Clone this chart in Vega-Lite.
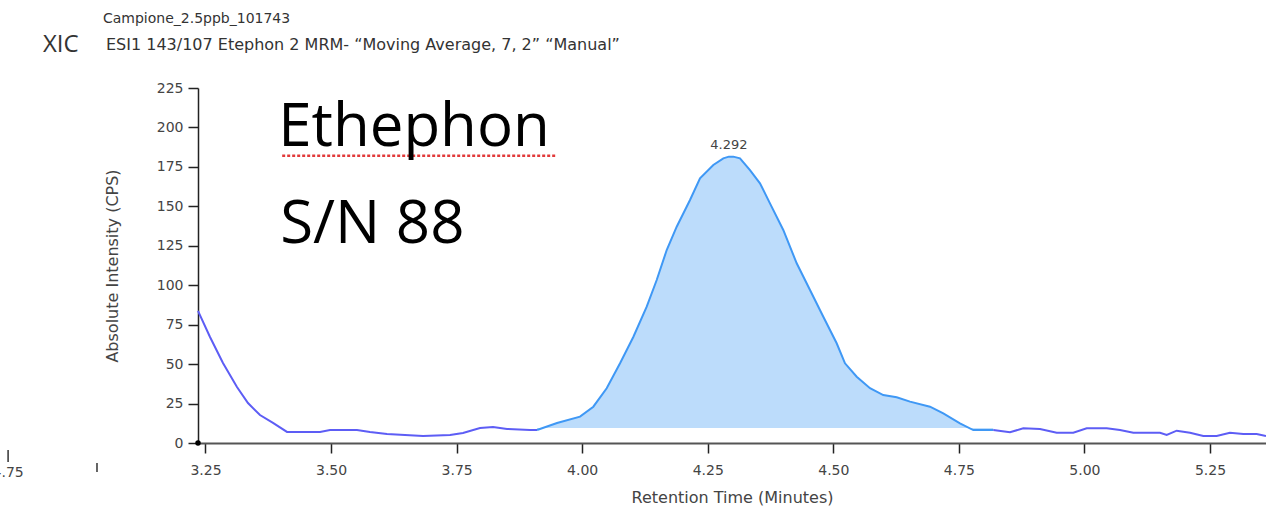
{
  "$schema": "https://vega.github.io/schema/vega-lite/v6.json",
  "width": 1068,
  "height": 355,
  "autosize": {"type": "none"},
  "padding": {"left": 198, "top": 88, "right": 0, "bottom": 67},
  "background": "white",
  "config": {"view": {"stroke": null}, "font": "DejaVu Sans"},
  "datasets": {
    "trace": [
      {"seg": "left", "t": 3.2351, "v": 83.7},
      {"seg": "left", "t": 3.2590, "v": 67.2},
      {"seg": "left", "t": 3.2848, "v": 50.7},
      {"seg": "left", "t": 3.3127, "v": 35.5},
      {"seg": "left", "t": 3.3346, "v": 25.3},
      {"seg": "left", "t": 3.3585, "v": 17.7},
      {"seg": "left", "t": 3.3844, "v": 12.7},
      {"seg": "left", "t": 3.4123, "v": 7.0},
      {"seg": "left", "t": 3.4780, "v": 7.0},
      {"seg": "left", "t": 3.4980, "v": 8.2},
      {"seg": "left", "t": 3.5516, "v": 8.2},
      {"seg": "left", "t": 3.5775, "v": 7.0},
      {"seg": "left", "t": 3.6114, "v": 5.7},
      {"seg": "left", "t": 3.6831, "v": 4.4},
      {"seg": "left", "t": 3.7369, "v": 5.1},
      {"seg": "left", "t": 3.7627, "v": 6.3},
      {"seg": "left", "t": 3.7966, "v": 9.5},
      {"seg": "left", "t": 3.8225, "v": 10.1},
      {"seg": "left", "t": 3.8504, "v": 8.9},
      {"seg": "left", "t": 3.8962, "v": 8.2},
      {"seg": "left", "t": 3.9101, "v": 8.2},
      {"seg": "peak", "t": 3.9101, "v": 8.2},
      {"seg": "peak", "t": 3.9499, "v": 12.7},
      {"seg": "peak", "t": 3.9957, "v": 16.7},
      {"seg": "peak", "t": 4.0222, "v": 23.0},
      {"seg": "peak", "t": 4.0488, "v": 34.7},
      {"seg": "peak", "t": 4.0754, "v": 50.5},
      {"seg": "peak", "t": 4.1018, "v": 67.2},
      {"seg": "peak", "t": 4.1285, "v": 86.4},
      {"seg": "peak", "t": 4.1484, "v": 103.3},
      {"seg": "peak", "t": 4.1683, "v": 122.3},
      {"seg": "peak", "t": 4.1882, "v": 137.1},
      {"seg": "peak", "t": 4.2147, "v": 154.0},
      {"seg": "peak", "t": 4.2346, "v": 167.8},
      {"seg": "peak", "t": 4.2611, "v": 176.2},
      {"seg": "peak", "t": 4.2810, "v": 180.4},
      {"seg": "peak", "t": 4.2920, "v": 181.5},
      {"seg": "peak", "t": 4.3009, "v": 181.5},
      {"seg": "peak", "t": 4.3142, "v": 180.4},
      {"seg": "peak", "t": 4.3341, "v": 173.0},
      {"seg": "peak", "t": 4.3540, "v": 164.6},
      {"seg": "peak", "t": 4.3739, "v": 151.9},
      {"seg": "peak", "t": 4.4004, "v": 135.0},
      {"seg": "peak", "t": 4.4271, "v": 113.9},
      {"seg": "peak", "t": 4.4536, "v": 97.0},
      {"seg": "peak", "t": 4.4801, "v": 80.0},
      {"seg": "peak", "t": 4.5067, "v": 63.2},
      {"seg": "peak", "t": 4.5233, "v": 50.5},
      {"seg": "peak", "t": 4.5466, "v": 42.0},
      {"seg": "peak", "t": 4.5731, "v": 34.7},
      {"seg": "peak", "t": 4.5995, "v": 30.4},
      {"seg": "peak", "t": 4.6262, "v": 29.0},
      {"seg": "peak", "t": 4.6527, "v": 26.2},
      {"seg": "peak", "t": 4.6925, "v": 23.0},
      {"seg": "peak", "t": 4.7190, "v": 18.8},
      {"seg": "peak", "t": 4.7522, "v": 12.5},
      {"seg": "peak", "t": 4.7787, "v": 8.2},
      {"seg": "peak", "t": 4.8185, "v": 8.2},
      {"seg": "right", "t": 4.8185, "v": 8.2},
      {"seg": "right", "t": 4.8518, "v": 6.8},
      {"seg": "right", "t": 4.8783, "v": 9.3},
      {"seg": "right", "t": 4.9115, "v": 8.9},
      {"seg": "right", "t": 4.9448, "v": 6.5},
      {"seg": "right", "t": 4.9778, "v": 6.5},
      {"seg": "right", "t": 5.0045, "v": 9.3},
      {"seg": "right", "t": 5.0443, "v": 9.3},
      {"seg": "right", "t": 5.0708, "v": 8.2},
      {"seg": "right", "t": 5.0974, "v": 6.5},
      {"seg": "right", "t": 5.1505, "v": 6.5},
      {"seg": "right", "t": 5.1638, "v": 5.1},
      {"seg": "right", "t": 5.1837, "v": 7.8},
      {"seg": "right", "t": 5.2102, "v": 6.5},
      {"seg": "right", "t": 5.2367, "v": 4.4},
      {"seg": "right", "t": 5.2633, "v": 4.4},
      {"seg": "right", "t": 5.2897, "v": 6.5},
      {"seg": "right", "t": 5.3163, "v": 5.7},
      {"seg": "right", "t": 5.3430, "v": 5.7},
      {"seg": "right", "t": 5.3615, "v": 4.4}
    ],
    "notes": [
      {"kind": "campione", "label": "Campione_2.5ppb_101743", "t": 3.0459, "v": 268.7},
      {"kind": "esi", "label": "ESI1 143/107 Etephon 2 MRM- \u201cMoving Average, 7, 2\u201d \u201cManual\u201d", "t": 3.0519, "v": 252.2},
      {"kind": "xic", "label": "XIC", "t": 2.9265, "v": 252.2},
      {"kind": "big", "label": "Ethephon", "t": 3.3947, "v": 188.2},
      {"kind": "big", "label": "S/N 88", "t": 3.3987, "v": 126.8},
      {"kind": "peak", "label": "4.292", "t": 4.292, "v": 189.0},
      {"kind": "frag", "label": "4.75", "t": 2.857, "v": -19.0}
    ],
    "squiggle": [
      {"t": 3.4027, "t2": 3.9502, "v": 182.1}
    ],
    "fragticks": [
      {"t": 2.857, "v": -4.4, "v2": -12.0},
      {"t": 3.034, "v": -12.7, "v2": -18.4}
    ],
    "origin": [
      {"t": 3.2351, "v": 0}
    ]
  },
  "encoding": {
    "x": {
      "field": "t",
      "type": "quantitative",
      "scale": {"domain": [3.2351, 5.3615], "nice": false, "zero": false},
      "axis": {
        "values": [3.25, 3.5, 3.75, 4.0, 4.25, 4.5, 4.75, 5.0, 5.25],
        "format": ".2f",
        "grid": false,
        "domainColor": "#555555",
        "domainWidth": 2,
        "tickColor": "#222222",
        "tickSize": 10,
        "tickWidth": 1.5,
        "labelFontSize": 14,
        "labelColor": "#444444",
        "labelPadding": 10,
        "title": "Retention Time (Minutes)",
        "titleFontSize": 16,
        "titleFontWeight": "normal",
        "titleColor": "#444444",
        "titlePadding": 12
      }
    },
    "y": {
      "field": "v",
      "type": "quantitative",
      "scale": {"domain": [0, 225], "nice": false, "zero": true},
      "axis": {
        "values": [0, 25, 50, 75, 100, 125, 150, 175, 200, 225],
        "grid": false,
        "domainColor": "#222222",
        "domainWidth": 1.5,
        "tickColor": "#222222",
        "tickSize": 10,
        "tickWidth": 1.5,
        "labelFontSize": 14,
        "labelColor": "#444444",
        "labelPadding": 5,
        "title": "Absolute Intensity (CPS)",
        "titleFontSize": 16,
        "titleFontWeight": "normal",
        "titleColor": "#444444",
        "titlePadding": 36
      }
    }
  },
  "layer": [
    {
      "data": {"name": "trace"},
      "transform": [{"filter": "datum.seg === 'peak'"}],
      "mark": {"type": "area", "color": "#bcdcfb", "opacity": 1},
      "encoding": {"y2": {"datum": 9.5}}
    },
    {
      "data": {"name": "trace"},
      "mark": {"type": "line", "strokeWidth": 2},
      "encoding": {
        "color": {
          "field": "seg",
          "type": "nominal",
          "scale": {"domain": ["left", "peak", "right"], "range": ["#5d5df5", "#3f98f5", "#5d5df5"]},
          "legend": null
        }
      }
    },
    {
      "data": {"name": "origin"},
      "mark": {"type": "point", "filled": true, "color": "#000000", "size": 30, "opacity": 1}
    },
    {
      "data": {"name": "squiggle"},
      "mark": {"type": "rule", "color": "#e23a3a", "strokeWidth": 2.5, "strokeDash": [3, 2]},
      "encoding": {"x2": {"field": "t2"}}
    },
    {
      "data": {"name": "fragticks"},
      "mark": {"type": "rule", "color": "#333333", "strokeWidth": 1.5},
      "encoding": {"y2": {"field": "v2"}}
    },
    {
      "data": {"name": "notes"},
      "transform": [{"filter": "datum.kind === 'campione'"}],
      "mark": {"type": "text", "align": "left", "baseline": "middle", "fontSize": 14, "color": "#333333"},
      "encoding": {"text": {"field": "label"}}
    },
    {
      "data": {"name": "notes"},
      "transform": [{"filter": "datum.kind === 'esi'"}],
      "mark": {"type": "text", "align": "left", "baseline": "middle", "fontSize": 16, "color": "#333333"},
      "encoding": {"text": {"field": "label"}}
    },
    {
      "data": {"name": "notes"},
      "transform": [{"filter": "datum.kind === 'xic'"}],
      "mark": {"type": "text", "align": "left", "baseline": "middle", "fontSize": 24, "font": "Open Sans", "color": "#333333"},
      "encoding": {"text": {"field": "label"}}
    },
    {
      "data": {"name": "notes"},
      "transform": [{"filter": "datum.kind === 'big'"}],
      "mark": {"type": "text", "align": "left", "baseline": "alphabetic", "fontSize": 60, "font": "Open Sans", "color": "#000000"},
      "encoding": {"text": {"field": "label"}}
    },
    {
      "data": {"name": "notes"},
      "transform": [{"filter": "datum.kind === 'peak'"}],
      "mark": {"type": "text", "align": "center", "baseline": "middle", "fontSize": 13, "color": "#444444"},
      "encoding": {"text": {"field": "label"}}
    },
    {
      "data": {"name": "notes"},
      "transform": [{"filter": "datum.kind === 'frag'"}],
      "mark": {"type": "text", "align": "center", "baseline": "middle", "fontSize": 14, "color": "#444444"},
      "encoding": {"text": {"field": "label"}}
    }
  ]
}
